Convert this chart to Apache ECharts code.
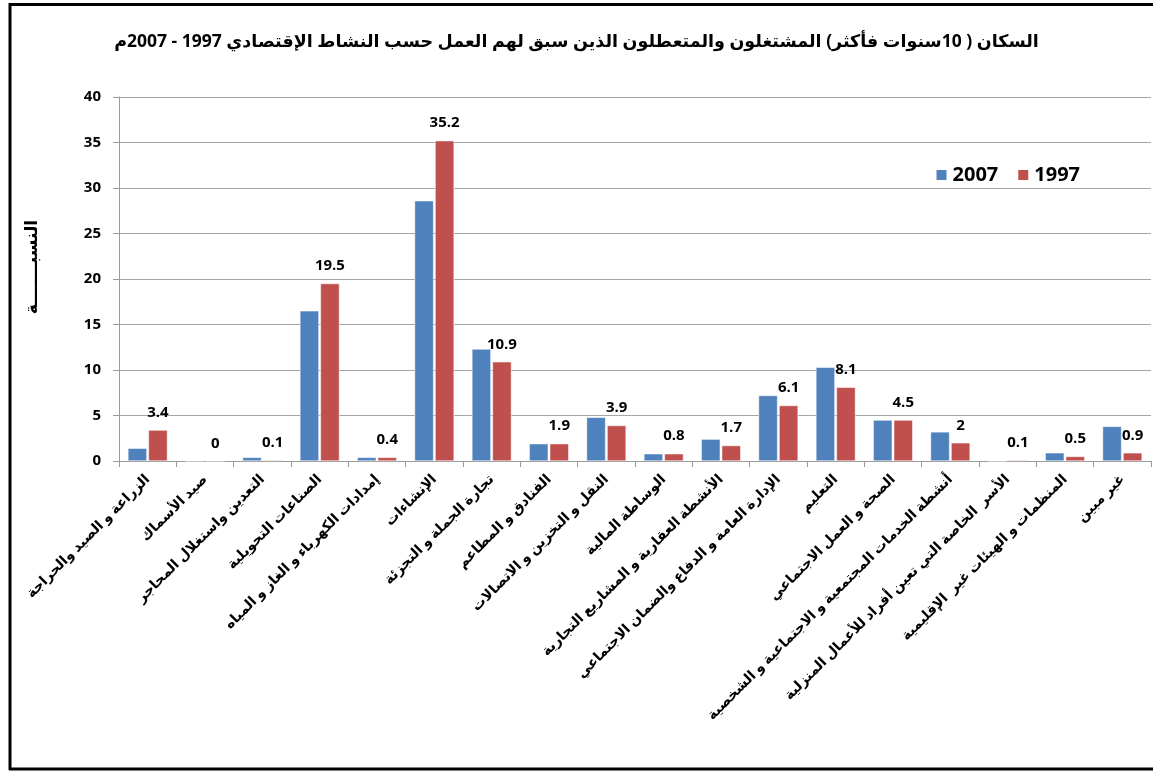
<!DOCTYPE html>
<html>
<head>
<meta charset="utf-8">
<script src="https://cdn.jsdelivr.net/npm/echarts@6/dist/echarts.min.js"></script>
<style>
  html, body { margin: 0; padding: 0; background: #fff; }
  #chart { width: 1153px; height: 771px; }
</style>
</head>
<body>
<div id="chart" dir="rtl"></div>
<script>
// الأنشطة الاقتصادية
const categories = [
  'الزراعة و الصيد والحراجة',
  'صيد الأسماك',
  'التعدين واستغلال المحاجر',
  'الصناعات التحويلية',
  'إمدادات الكهرباء و الغاز و المياه',
  'الإنشاءات',
  'تجارة الجملة و التجزئة',
  'الفنادق و المطاعم',
  'النقل و التخزين و الاتصالات',
  'الوساطة المالية',
  'الأنشطة العقارية و المشاريع التجارية',
  'الإدارة العامة و الدفاع والضمان الاجتماعي',
  'التعليم',
  'الصحة و العمل الاجتماعي',
  'أنشطة الخدمات المجتمعية و الاجتماعية و الشخصية',
  'الأسر  الخاصة التي تعين أفراد للأعمال المنزلية',
  'المنظمات و الهيئات غير  الإقليمية',
  'غير مبين'
]
// النسب
const values2007 = [1.4, 0, 0.4, 16.5, 0.4, 28.6, 12.3, 1.9, 4.8, 0.8, 2.4, 7.2, 10.3, 4.5, 3.2, 0, 0.9, 3.8]
const values1997 = [3.4, 0, 0.1, 19.5, 0.4, 35.2, 10.9, 1.9, 3.9, 0.8, 1.7, 6.1, 8.1, 4.5, 2, 0.1, 0.5, 0.9]
const yTicks = { min: 0, max: 40, interval: 5 }

const font = "'Open Sans', 'DejaVu Sans', sans-serif"
const chart = echarts.init(document.getElementById('chart'))

let option = {
  backgroundColor: '#fff',
  animation: false,
  textStyle: { fontFamily: font },
  title: {
    text: 'السكان ( 10سنوات فأكثر) المشتغلون والمتعطلون الذين سبق لهم العمل حسب النشاط الإقتصادي 1997 - 2007م',
    left: 'center',
    top: 28,
    textStyle: { fontFamily: font, fontSize: 17.5, fontWeight: 'bold', color: '#000' }
  },
  legend: {
    data: ['2007', '1997'],
    right: 68,
    top: 160,
    itemWidth: 12,
    itemHeight: 12,
    itemGap: 18,
    icon: 'rect',
    textStyle: { fontFamily: font, fontSize: 20, fontWeight: 'bold', color: '#000' }
  },
  grid: {
    left: 119,
    right: 2,
    top: 97,
    bottom: 310
  },
  xAxis: {
    type: 'category',
    data: categories,
    axisLine: { lineStyle: { color: '#9a9a9a' } },
    axisTick: { show: true, length: 6, lineStyle: { color: '#9a9a9a' } },
    axisLabel: {
      interval: 0,
      rotate: 45,
      margin: 16,
      color: '#000',
      fontFamily: font,
      fontSize: 14,
      fontWeight: 'bold'
    }
  },
  yAxis: {
    type: 'value',
    min: yTicks.min,
    max: yTicks.max,
    interval: yTicks.interval,
    name: 'النسبـــــــة',
    nameLocation: 'middle',
    nameRotate: 90,
    nameGap: 78,
    nameTextStyle: { fontFamily: font, fontSize: 17, fontWeight: 'bold', color: '#000', padding: [0, 0, 0, 24] },
    axisLine: { show: true, lineStyle: { color: '#9a9a9a' } },
    axisTick: { show: true, length: 6, lineStyle: { color: '#9a9a9a' } },
    axisLabel: { color: '#000', fontFamily: font, fontSize: 15, fontWeight: 'bold', margin: 18 },
    splitLine: { lineStyle: { color: '#a6a6a6' } }
  },
  series: [
    {
      name: '2007',
      type: 'bar',
      data: values2007,
      barWidth: 19,
      barGap: '8%',
      itemStyle: { color: '#4F81BD', borderColor: '#fff', borderWidth: 0.5 }
    },
    {
      name: '1997',
      type: 'bar',
      data: values1997,
      barWidth: 19,
      itemStyle: { color: '#C0504D', borderColor: '#fff', borderWidth: 0.5 },
      label: {
        show: true,
        position: 'top',
        distance: 10,
        color: '#000',
        fontFamily: font,
        fontSize: 15,
        fontWeight: 'bold'
      }
    }
  ],
  graphic: [
    { type: 'line', shape: { x1: 10, y1: 3, x2: 10, y2: 770 }, style: { stroke: '#000', lineWidth: 3 } },
    { type: 'line', shape: { x1: 9, y1: 4.5, x2: 1153, y2: 4.5 }, style: { stroke: '#000', lineWidth: 3 } },
    { type: 'line', shape: { x1: 9, y1: 769, x2: 1153, y2: 769 }, style: { stroke: '#000', lineWidth: 3 } }
  ]
}

chart.setOption(option)
</script>
</body>
</html>
